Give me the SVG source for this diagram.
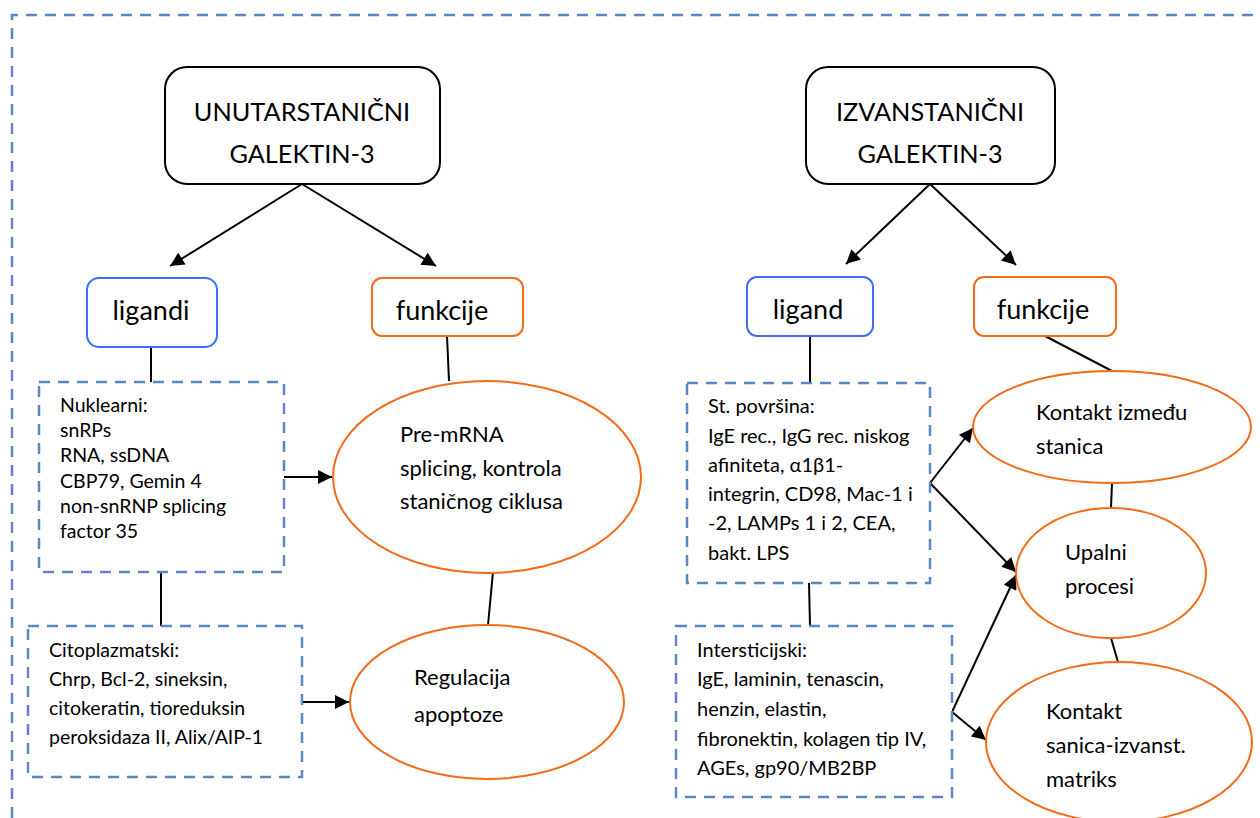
<svg xmlns="http://www.w3.org/2000/svg" width="1260" height="818" viewBox="0 0 1260 818">
<defs>
<marker id="ah" viewBox="0 0 10 10" refX="10" refY="5" markerWidth="15" markerHeight="14" markerUnits="userSpaceOnUse" orient="auto">
<path d="M0,0 L10,5 L0,10 z" fill="#000"/>
</marker>
<style>
text{font-family:Lato,"Open Sans","Liberation Sans",sans-serif;fill:#000}
.title{font-size:25.3px;text-anchor:middle}
.lbl{font-size:27px;text-anchor:middle}
.small{font-size:19.5px}
.smallr{font-size:20px}
.ell{font-size:22px}
.black{fill:#fff;stroke:#000;stroke-width:2}
.blue{fill:#fff;stroke:#3F6EF5;stroke-width:2}
.orange{fill:#fff;stroke:#F26B16;stroke-width:2}
.dash{fill:#fff;stroke:#5A87C6;stroke-width:2.5;stroke-dasharray:11 8}
.conn line{stroke:#000;stroke-width:2;fill:none}
.arr{marker-end:url(#ah)}
</style>
</defs>
<rect width="1260" height="818" fill="#fff"/>
<path d="M12,818 L12,15 L1262,15" fill="none" stroke="#5A87C6" stroke-width="2.5" stroke-dasharray="11 8"/>

<g class="conn">
<line class="arr" x1="302" y1="184" x2="170" y2="266"/>
<line class="arr" x1="302" y1="184" x2="436" y2="266"/>
<line class="arr" x1="930" y1="184" x2="846" y2="264"/>
<line class="arr" x1="930" y1="184" x2="1016" y2="265"/>
<line x1="151" y1="347" x2="151" y2="382"/>
<line x1="447" y1="336" x2="449" y2="381"/>
<line x1="161" y1="572" x2="161" y2="626"/>
<line class="arr" x1="284" y1="477" x2="332" y2="477"/>
<line x1="493" y1="572" x2="488" y2="625"/>
<line class="arr" x1="302" y1="702" x2="349" y2="702"/>
<line x1="810" y1="336" x2="810" y2="383"/>
<line x1="809" y1="583" x2="810" y2="626"/>
<line x1="1045" y1="336" x2="1112" y2="371"/>
<line x1="1112" y1="483" x2="1111" y2="508"/>
<line x1="1111" y1="638" x2="1118" y2="662"/>
<line class="arr" x1="930" y1="483" x2="973" y2="428"/>
<line class="arr" x1="930" y1="483" x2="1016" y2="572"/>
<line class="arr" x1="952" y1="712" x2="1016" y2="575"/>
<line class="arr" x1="952" y1="712" x2="986" y2="740"/>
</g>

<g id="unutar">
<rect class="black" x="165" y="67" width="275" height="117" rx="22"/>
<text class="title" x="302" y="121">UNUTARSTANIČNI</text>
<text class="title" x="302" y="163">GALEKTIN-3</text>
</g>
<g id="izvan">
<rect class="black" x="806" y="67" width="249" height="117" rx="22"/>
<text class="title" x="930" y="121">IZVANSTANIČNI</text>
<text class="title" x="930" y="163">GALEKTIN-3</text>
</g>

<g id="ligandi">
<rect class="blue" x="87" y="278" width="130" height="69" rx="12"/>
<text class="lbl" x="151" y="320">ligandi</text>
</g>
<g id="funkcije1">
<rect class="orange" x="372" y="278" width="151" height="58" rx="10"/>
<text class="lbl" x="442" y="320">funkcije</text>
</g>
<g id="ligand">
<rect class="blue" x="747" y="277" width="126" height="59" rx="10"/>
<text class="lbl" x="808" y="319">ligand</text>
</g>
<g id="funkcije2">
<rect class="orange" x="974" y="277" width="142" height="59" rx="10"/>
<text class="lbl" x="1043" y="319">funkcije</text>
</g>

<g id="nuklearni">
<rect class="dash" x="39" y="382" width="245" height="190"/>
<text class="small" x="60" y="412">Nuklearni:</text>
<text class="small" x="60" y="437">snRPs</text>
<text class="small" x="60" y="462">RNA, ssDNA</text>
<text class="small" x="60" y="488">CBP79, Gemin 4</text>
<text class="small" x="60" y="513">non-snRNP splicing</text>
<text class="small" x="60" y="538">factor 35</text>
</g>
<g id="citoplazmatski">
<rect class="dash" x="28" y="626" width="274" height="151"/>
<text class="small" x="49" y="657">Citoplazmatski:</text>
<text class="small" x="49" y="686">Chrp, Bcl-2, sineksin,</text>
<text class="small" x="49" y="715">citokeratin, tioreduksin</text>
<text class="small" x="49" y="744">peroksidaza II, Alix/AIP-1</text>
</g>
<g id="premrna">
<ellipse class="orange" cx="487" cy="477" rx="154" ry="96"/>
<text class="ell" x="400" y="442">Pre-mRNA</text>
<text class="ell" x="400" y="476">splicing, kontrola</text>
<text class="ell" x="400" y="509">staničnog ciklusa</text>
</g>
<g id="regulacija">
<ellipse class="orange" cx="487" cy="702" rx="137" ry="77"/>
<text class="ell" x="414" y="685">Regulacija</text>
<text class="ell" x="414" y="722">apoptoze</text>
</g>

<g id="povrsina">
<rect class="dash" x="687" y="383" width="243" height="200"/>
<text class="smallr" x="708" y="413">St. površina:</text>
<text class="smallr" x="708" y="443">IgE rec., IgG rec. niskog</text>
<text class="smallr" x="708" y="472">afiniteta, α1β1-</text>
<text class="smallr" x="708" y="501">integrin, CD98, Mac-1 i</text>
<text class="smallr" x="708" y="530">-2, LAMPs 1 i 2, CEA,</text>
<text class="smallr" x="708" y="560">bakt. LPS</text>
</g>
<g id="intersticijski">
<rect class="dash" x="676" y="626" width="276" height="171"/>
<text class="smallr" x="697" y="657">Intersticijski:</text>
<text class="smallr" x="697" y="686">IgE, laminin, tenascin,</text>
<text class="smallr" x="697" y="716">henzin, elastin,</text>
<text class="smallr" x="697" y="746">fibronektin, kolagen tip IV,</text>
<text class="smallr" x="697" y="775">AGEs, gp90/MB2BP</text>
</g>
<g id="kontakt1">
<ellipse class="orange" cx="1112" cy="427" rx="139" ry="56"/>
<text class="ell" x="1036" y="420">Kontakt između</text>
<text class="ell" x="1036" y="454">stanica</text>
</g>
<g id="upalni">
<ellipse class="orange" cx="1111" cy="573" rx="95" ry="65"/>
<text class="ell" x="1065" y="560">Upalni</text>
<text class="ell" x="1065" y="594">procesi</text>
</g>
<g id="kontakt2">
<ellipse class="orange" cx="1119" cy="742" rx="133" ry="80"/>
<text class="ell" x="1046" y="719">Kontakt</text>
<text class="ell" x="1046" y="753">sanica-izvanst.</text>
<text class="ell" x="1046" y="787">matriks</text>
</g>
</svg>
